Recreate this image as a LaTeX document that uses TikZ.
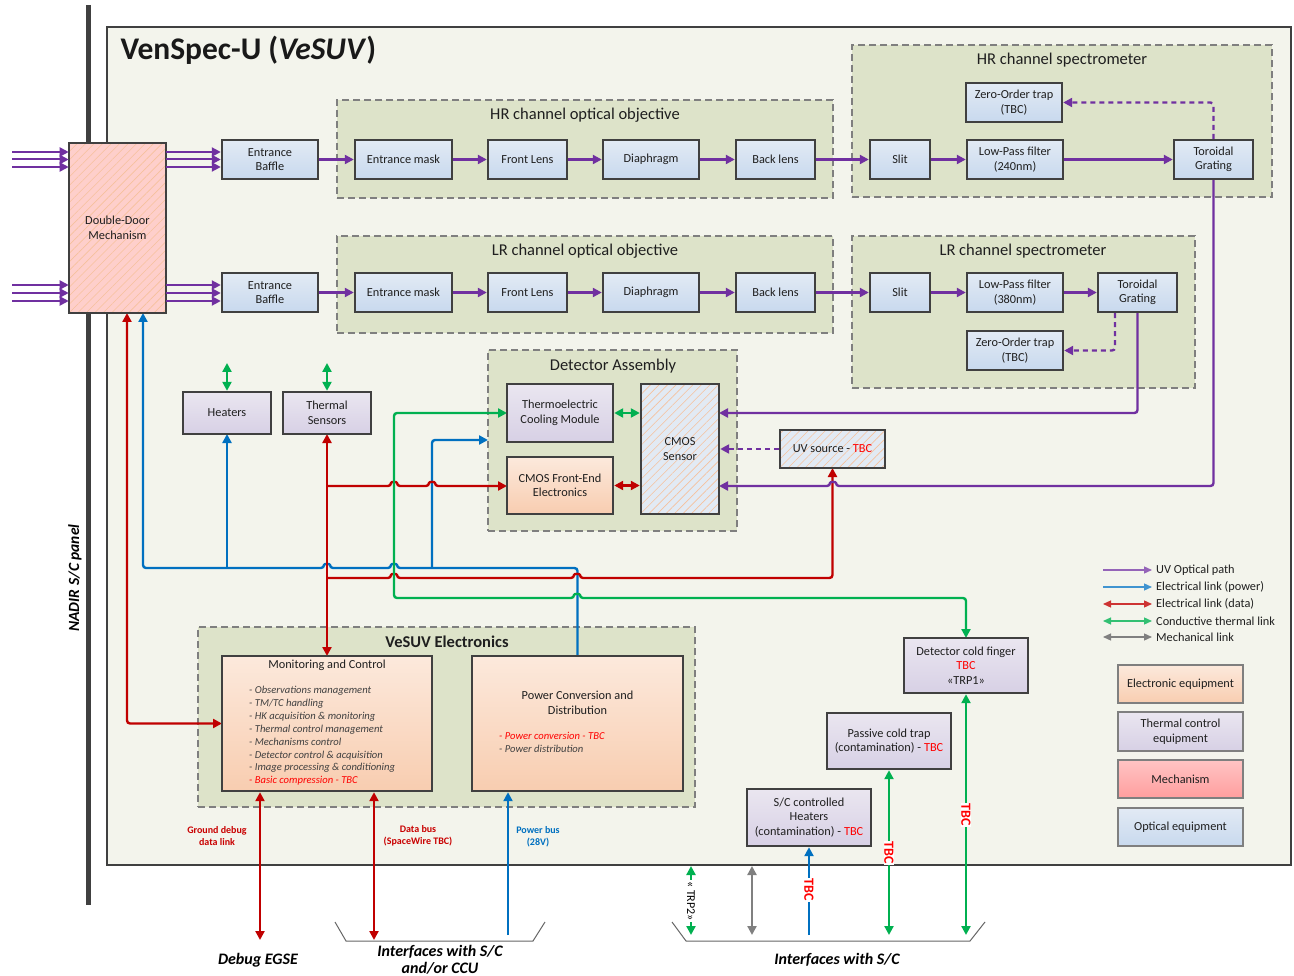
\documentclass[tikz,border=0pt]{standalone}
\usepackage{fontspec}
\setmainfont{Carlito}
\usetikzlibrary{arrows.meta,fit,patterns.meta,calc}
\definecolor{cpur}{HTML}{7030A0}
\definecolor{cblu}{HTML}{0070C0}
\definecolor{cred}{HTML}{C00000}
\definecolor{cgrn}{HTML}{00B050}
\definecolor{cgry}{HTML}{808080}
\definecolor{tbc}{HTML}{FF0000}
\definecolor{bdr}{HTML}{404040}
\definecolor{panel}{HTML}{F3F4EC}
\definecolor{grpf}{HTML}{DDE3C9}
\definecolor{grpb}{HTML}{7F7F7F}
\definecolor{optT}{HTML}{E2EAF4}
\definecolor{optB}{HTML}{C8D9EE}
\definecolor{thT}{HTML}{EAE6F0}
\definecolor{thB}{HTML}{D7D0E5}
\definecolor{elT}{HTML}{FCE9DC}
\definecolor{elB}{HTML}{F8CDB0}
\definecolor{meT}{HTML}{FFC4C4}
\definecolor{meB}{HTML}{FF9E9E}
\definecolor{hatchc}{HTML}{F4B183}
\definecolor{listc}{HTML}{404040}
\newcommand\myfA{\fontsize{12.3}{14.5}\selectfont}
\newcommand\myfG{\fontsize{16.5}{19}\selectfont}
\newcommand\myfL{\fontsize{10.6}{12.9}\selectfont\itshape}
\newcommand\myfS{\fontsize{10}{12}\selectfont\bfseries}
\newcommand\myfB{\fontsize{16}{17.5}\selectfont\bfseries\itshape}
\newcommand\bx[7]{%
  \pgfmathsetmacro\bxw{#5-#3}\pgfmathsetmacro\bxh{#6-#4}%
  \pgfmathsetmacro\bxx{(#3+#5)/2}\pgfmathsetmacro\bxy{(#4+#6)/2}%
  \node[#2, minimum width=\bxw pt, minimum height=\bxh pt, inner sep=0pt] (#1) at (\bxx,\bxy) {#7};}
\tikzset{
  >={Triangle[length=9pt,width=9pt]},
  box/.style={draw=bdr, line width=2.4pt, align=center, font=\myfA, text=black!88},
  opt/.style={box, top color=optT, bottom color=optB},
  therm/.style={box, top color=thT, bottom color=thB},
  elec/.style={box, top color=elT, bottom color=elB},
  hatchbox/.style={box, preaction={fill=#1}, pattern={Lines[angle=45,distance=6pt,line width=0.6pt]}, pattern color=hatchc!80},
  lgbox/.style={draw=grpb, line width=1.6pt, align=center, font=\myfA, text=black!88},
  grp/.style={draw=grpb, fill=grpf, line width=1.3pt, dash pattern=on 7pt off 4pt},
  grptitle/.style={font=\myfG, text=black!88},
  wire/.style={line width=2.4pt, rounded corners=3pt},
  pur/.style={wire, draw=cpur},
  blu/.style={wire, draw=cblu},
  red/.style={wire, draw=cred},
  grn/.style={wire, draw=cgrn},
  gry/.style={wire, draw=cgry},
  dsh/.style={dash pattern=on 5pt off 4pt},
  lg/.style={line width=1.3pt, >={Triangle[length=8pt,width=7pt]}},
  lgtext/.style={anchor=west, font=\myfA, text=black!88, inner sep=1pt},
  tbcl/.style={rotate=-90, font=\fontsize{14}{15}\selectfont\bfseries, text=tbc, fill=white, inner sep=0.5pt},
}
\begin{document}
\begin{tikzpicture}[x=1pt,y=-1pt]
\useasboundingbox (0,0) rectangle (1294,976);
\fill[white] (0,0) rectangle (1294,976);

% NADIR panel
\draw[line width=5pt, draw=bdr] (88,5) -- (88,905);
\node[rotate=90, font=\fontsize{15.5}{17}\selectfont\bfseries\itshape] (nadir) at (75,578) {NADIR S/C panel};

% main panel
\node[draw=bdr, line width=2pt, fill=panel, fit={(107,27) (1291,865)}, inner sep=0pt] (panel) {};
\node[anchor=west, font=\fontsize{31.5}{34}\selectfont\bfseries, text=black!90] (title) at (117,50) {VenSpec-U (\textit{VeSUV})};

% groups
\node[grp, fit={(337,100) (833,198)}, inner sep=0pt] (hrobj) {};
\node[grptitle] (hrobjT) at (585,115) {HR channel optical objective};
\node[grp, fit={(337,236) (833,333)}, inner sep=0pt] (lrobj) {};
\node[grptitle] (lrobjT) at (585,251) {LR channel optical objective};
\node[grp, fit={(852,45) (1272,197)}, inner sep=0pt] (hrspec) {};
\node[grptitle] (hrspecT) at (1062,60) {HR channel spectrometer};
\node[grp, fit={(852,236) (1195,388)}, inner sep=0pt] (lrspec) {};
\node[grptitle] (lrspecT) at (1023,251) {LR channel spectrometer};
\node[grp, fit={(488,350) (737,531)}, inner sep=0pt] (da) {};
\node[grptitle] (daT) at (613,366) {Detector Assembly};
\node[grp, fit={(198,627) (695,807)}, inner sep=0pt] (vel) {};
\node[grptitle, font=\myfG\bfseries] (velT) at (447,642) {VeSUV Electronics};

% ---- wires (drawn before boxes) ----
% blue power
\draw[blu,->] (577.5,656) -- (577.5,568) -- (397,568) .. controls (397,563.5) and (391,563.5) .. (391,568) -- (330,568) .. controls (330,563.5) and (324,563.5) .. (324,568) -- (143,568) -- (143,313);
\draw[blu,->] (227,568) -- (227,434);
\draw[blu,->] (432,568) -- (432,440) -- (488,440);
% red data
\draw[red,<->] (327,434) -- (327,656);
\draw[red,->] (327,486) -- (391,486) .. controls (391,481.5) and (397,481.5) .. (397,486) -- (429,486) .. controls (429,481.5) and (435,481.5) .. (435,486) -- (507,486);
\draw[red,->] (327,578) -- (391,578) .. controls (391,573.5) and (397,573.5) .. (397,578) -- (574,578) .. controls (574,573.5) and (580,573.5) .. (580,578) -- (832.5,578) -- (832.5,468);
\draw[red,<->] (127,313) -- (127,723.5) -- (222,723.5);
% green thermal
\draw[grn,<->] (966,638) -- (966,598) -- (580,598) .. controls (580,593.5) and (574,593.5) .. (574,598) -- (394,598) -- (394,413) -- (507,413);
% purple to sensor
\draw[pur,->] (1213.5,179) -- (1213.5,486) -- (836,486) .. controls (836,481.5) and (830,481.5) .. (830,486) -- (719,486);
\draw[pur,->] (1137.5,312) -- (1137.5,413) -- (719,413);

% ---- boxes ----
\bx{ddm}{hatchbox=meT!70!elT}{69}{143}{166}{313}{Double-Door\\Mechanism}
\bx{eb1}{opt}{222}{140}{318}{179}{Entrance\\Baffle}
\bx{eb2}{opt}{222}{273}{318}{312}{Entrance\\Baffle}
\bx{em1}{opt}{355}{140}{452}{179}{Entrance mask}
\bx{fl1}{opt}{488}{140}{567}{179}{Front Lens}
\bx{dp1}{opt}{603}{140}{699}{179}{Diaphragm}
\bx{bl1}{opt}{736}{140}{815}{179}{Back lens}
\bx{em2}{opt}{355}{273}{452}{312}{Entrance mask}
\bx{fl2}{opt}{488}{273}{567}{312}{Front Lens}
\bx{dp2}{opt}{603}{273}{699}{312}{Diaphragm}
\bx{bl2}{opt}{736}{273}{815}{312}{Back lens}
\bx{zot1}{opt}{966}{83}{1062}{122}{Zero-Order trap\\(TBC)}
\bx{sl1}{opt}{870}{140}{930}{179}{Slit}
\bx{lpf1}{opt}{967}{140}{1063}{179}{Low-Pass filter\\(240nm)}
\bx{tg1}{opt}{1174}{140}{1253}{179}{Toroidal\\Grating}
\bx{sl2}{opt}{870}{273}{930}{312}{Slit}
\bx{lpf2}{opt}{967}{273}{1063}{312}{Low-Pass filter\\(380nm)}
\bx{tg2}{opt}{1098}{273}{1177}{312}{Toroidal\\Grating}
\bx{zot2}{opt}{967}{331}{1063}{370}{Zero-Order trap\\(TBC)}
\bx{tcm}{therm}{507}{384}{613}{442}{Thermoelectric\\Cooling Module}
\bx{fe}{elec}{507}{457}{613}{514}{CMOS Front-End\\Electronics}
\bx{cmos}{hatchbox=optT}{641}{384}{719}{514}{CMOS\\Sensor}
\bx{uv}{hatchbox=optT}{780}{430}{885}{468}{UV source - \textcolor{tbc}{TBC}}
\bx{heat}{therm}{183}{392}{271}{434}{Heaters}
\bx{ts}{therm}{283}{392}{371}{434}{Thermal\\Sensors}
\bx{mc}{elec}{222}{656}{432}{791}{}
\bx{pcd}{elec}{472}{656}{683}{791}{}
\node[font=\myfA, text=black!88] (mcT) at (327,665) {Monitoring and Control};
\node[anchor=north west, align=left, inner sep=0pt, font=\myfL, text=listc] (mcL) at (249,686) {- Observations management\\- TM/TC handling\\- HK acquisition \& monitoring\\- Thermal control management\\- Mechanisms control\\- Detector control \& acquisition\\- Image processing \& conditioning\\\textcolor{tbc}{- Basic compression - TBC}};
\node[font=\myfA, align=center, text=black!88] (pcdT) at (577.5,703) {Power Conversion and\\Distribution};
\node[anchor=north west, align=left, inner sep=0pt, font=\myfL, text=listc] (pcdL) at (499,732) {\textcolor{tbc}{- Power conversion - TBC}\\- Power distribution};
\bx{cdf}{therm}{904}{638}{1028}{693}{Detector cold finger\\\textcolor{tbc}{TBC}\\«TRP1»}
\bx{pct}{therm}{827}{713}{951}{769}{Passive cold trap\\(contamination) - \textcolor{tbc}{TBC}}
\bx{sch}{therm}{747}{789}{871}{846}{S/C controlled\\Heaters\\(contamination) - \textcolor{tbc}{TBC}}

% ---- optical path ----
\coordinate (i1) at (12,152); \coordinate (i2) at (12,159.5); \coordinate (i3) at (12,167);
\coordinate (i4) at (12,285); \coordinate (i5) at (12,293); \coordinate (i6) at (12,301);
\foreach \c in {i1,i2,i3}{
  \draw[pur,line width=2pt,->] (\c) -- (\c -| ddm.west);
  \draw[pur,line width=2pt,->] (\c -| ddm.east) -- (\c -| eb1.west);
}
\foreach \c in {i4,i5,i6}{
  \draw[pur,line width=2pt,->] (\c) -- (\c -| ddm.west);
  \draw[pur,line width=2pt,->] (\c -| ddm.east) -- (\c -| eb2.west);
}
\draw[pur,->] (eb1) -- (em1);
\draw[pur,->] (em1) -- (fl1);
\draw[pur,->] (fl1) -- (dp1);
\draw[pur,->] (dp1) -- (bl1);
\draw[pur,->] (bl1) -- (sl1);
\draw[pur,->] (sl1) -- (lpf1);
\draw[pur,->] (lpf1) -- (tg1);
\draw[pur,->] (eb2) -- (em2);
\draw[pur,->] (em2) -- (fl2);
\draw[pur,->] (fl2) -- (dp2);
\draw[pur,->] (dp2) -- (bl2);
\draw[pur,->] (bl2) -- (sl2);
\draw[pur,->] (sl2) -- (lpf2);
\draw[pur,->] (lpf2) -- (tg2);
\draw[pur,dsh,->] (tg1.north) |- (zot1.east);
\draw[pur,dsh,->] ([xshift=-22.5pt]tg2.south) |- (zot2.east);
\draw[pur,dsh,->] (uv.west) -- (uv.west -| cmos.east);
\draw[grn,<->] (tcm.east) -- (tcm.east -| cmos.west);
\draw[red,<->] (fe.east) -- (fe.east -| cmos.west);

% heaters / sensors green
\coordinate (hgT) at (227,363); \coordinate (tsT) at (327,363);
\draw[grn,<->] (hgT) -- (heat.north);
\draw[grn,<->] (tsT) -- (ts.north);

% ---- external interfaces ----
\coordinate (dbgE) at (260,940); \coordinate (dbE) at (374,940); \coordinate (pbE) at (508,935);
\draw[red,<->] (dbgE) -- (dbgE |- mc.south);
\draw[red,<->] (dbE) -- (dbE |- mc.south);
\draw[blu,->] (pbE) -- (pbE |- pcd.south);
\coordinate (schE) at (809,935); \coordinate (pctE) at (889,935); \coordinate (cdfE) at (966,935);
\draw[blu,->] (schE) -- (sch.south);
\draw[grn,<->] (pctE) -- (pct.south);
\draw[grn,<->] (cdfE) -- (cdf.south);
\coordinate (trpA) at (691,866); \coordinate (trpB) at (691,935);
\draw[grn,<->] (trpA) -- (trpB);
\coordinate (mkA) at (752,866); \coordinate (mkB) at (752,935);
\draw[gry,<->] (mkA) -- (mkB);
\node[tbcl] (tbc1) at (809,890) {TBC};
\node[tbcl] (tbc2) at (889,853) {TBC};
\node[tbcl] (tbc3) at (966,815) {TBC};
\node[rotate=-90, fill=white, inner sep=1pt, font=\fontsize{12}{13}\selectfont] (trp2) at (691,901) {« TRP2»};

\node[font=\myfS, text=cred!85!red, align=center] (gdl) at (217,836) {Ground debug\\data link};
\node[font=\myfS, text=cred!85!red, align=center] (dbl) at (418,836) {Data bus\\(SpaceWire TBC)};
\node[font=\myfS, text=cblu, align=center] (pbl) at (538,837) {Power bus\\(28V)};

\draw[draw=bdr!80, line width=1pt] (335,922) -- (346,941) -- (533,941) -- (545,922);
\draw[draw=bdr!80, line width=1pt] (672,922) -- (686,941) -- (970,941) -- (985,922);
\node[font=\myfB] (egse) at (258,960) {Debug EGSE};
\node[font=\myfB, align=center] (ifc1) at (440,960) {Interfaces with S/C\\and/or CCU};
\node[font=\myfB] (ifc2) at (837,960) {Interfaces with S/C};

% ---- legend ----
\coordinate (l1a) at (1103,570); \coordinate (l1b) at (1152,570);
\coordinate (l2a) at (1103,587); \coordinate (l2b) at (1152,587);
\coordinate (l3a) at (1103,604); \coordinate (l3b) at (1152,604);
\coordinate (l4a) at (1103,621); \coordinate (l4b) at (1152,621);
\coordinate (l5a) at (1103,637); \coordinate (l5b) at (1152,637);
\draw[lg, draw=cpur!75, ->] (l1a) -- (l1b);
\draw[lg, draw=cblu!75, ->] (l2a) -- (l2b);
\draw[lg, draw=cred!80, <->] (l3a) -- (l3b);
\draw[lg, draw=cgrn!80, <->] (l4a) -- (l4b);
\draw[lg, draw=cgry, <->] (l5a) -- (l5b);
\node[lgtext] (l1t) at (1155,570) {UV Optical path};
\node[lgtext] (l2t) at (1155,587) {Electrical link (power)};
\node[lgtext] (l3t) at (1155,604) {Electrical link (data)};
\node[lgtext] (l4t) at (1155,621) {Conductive thermal link};
\node[lgtext] (l5t) at (1155,637) {Mechanical link};
\bx{lgE}{lgbox, top color=elT, bottom color=elB}{1118}{665}{1243}{703}{Electronic equipment}
\bx{lgT}{lgbox, top color=thT, bottom color=thB}{1118}{712}{1243}{751}{Thermal control\\equipment}
\bx{lgM}{lgbox, top color=meT, bottom color=meB}{1118}{760}{1243}{798}{Mechanism}
\bx{lgO}{lgbox, top color=optT, bottom color=optB}{1118}{808}{1243}{846}{Optical equipment}
\end{tikzpicture}
\end{document}
